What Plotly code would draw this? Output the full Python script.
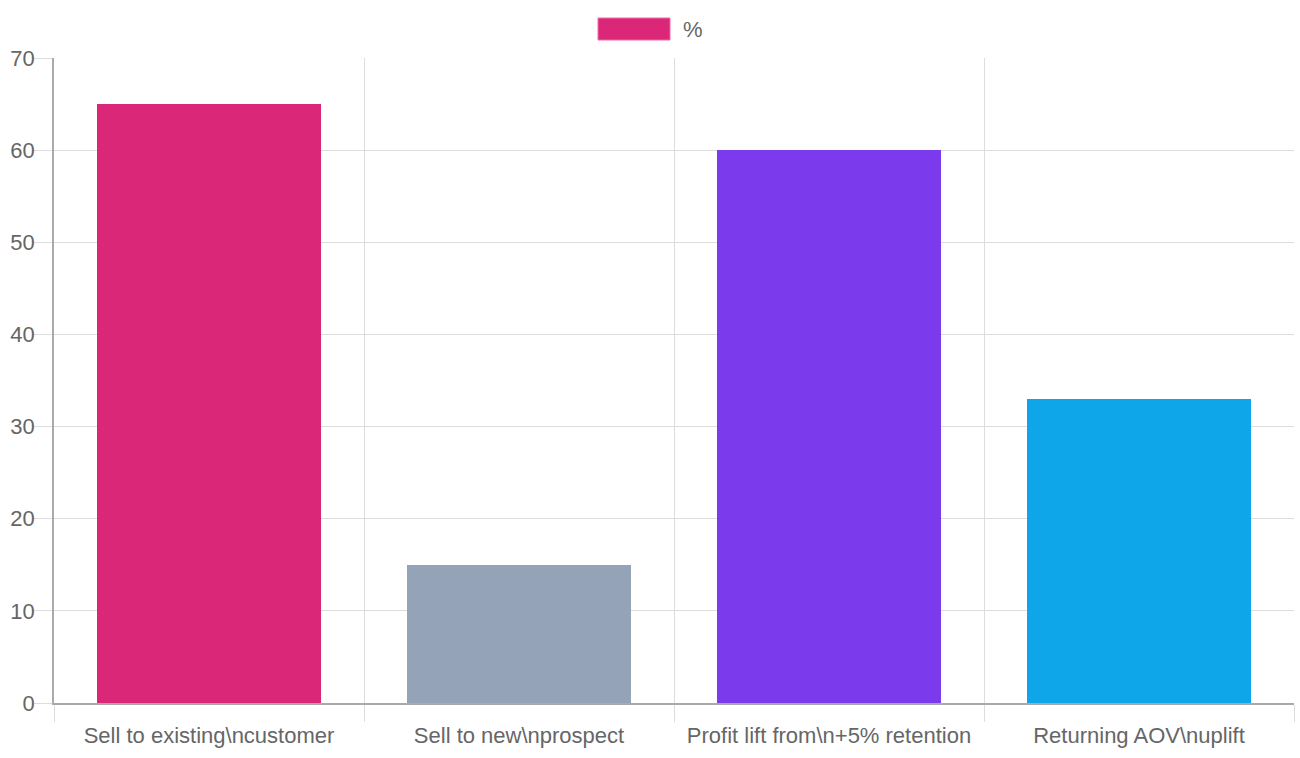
import plotly.graph_objects as go

categories = ["Sell to existing\\ncustomer", "Sell to new\\nprospect",
              "Profit lift from\\n+5% retention", "Returning AOV\\nuplift"]
values = [65, 15, 60, 33]
colors = ["#db2777", "#94a3b8", "#7c3aed", "#0ea5e9"]
series_name = "%"

fig = go.Figure()
fig.add_trace(go.Bar(x=categories, y=values, marker=dict(color=colors, line=dict(width=0)),
                     width=0.72, name=series_name, showlegend=False, hoverinfo="x+y"))

font_color = "#666666"
grid = "#dddddd"
axis_c = "#aaaaaa"
fsize = 22

fig.update_layout(
    width=1300, height=758,
    margin=dict(l=54, r=6, t=58, b=55),
    paper_bgcolor="white", plot_bgcolor="white",
    font=dict(family="Liberation Sans, Arial, sans-serif", size=fsize, color=font_color),
    xaxis=dict(type="category", tickson="boundaries", showgrid=True, gridcolor=grid, gridwidth=1,
               ticks="outside", ticklen=17, tickcolor=grid, showline=True, linecolor=axis_c,
               linewidth=1.5, mirror=False, tickfont=dict(size=fsize, color=font_color),
               ticklabelstandoff=12, fixedrange=True),
    yaxis=dict(range=[0, 70], dtick=10, showgrid=True, gridcolor=grid, gridwidth=1,
               ticks="outside", ticklen=18, tickcolor=grid, showline=True, linecolor=axis_c,
               linewidth=1.5, zeroline=False, tickfont=dict(size=fsize, color=font_color),
               ticklabelstandoff=-5, fixedrange=True),
    bargap=0,
)

# legend drawn as a colored box plus text
fig.add_shape(type="rect", xref="paper", yref="paper",
              x0=(598 - 54) / 1240, x1=(670 - 54) / 1240,
              y0=1 + (58 - 40) / 645, y1=1 + (58 - 18) / 645,
              fillcolor=colors[0], line=dict(color="#f06aa8", width=1))
fig.add_annotation(text=series_name, xref="paper", yref="paper",
                   x=(681 - 54) / 1240, y=1 + (58 - 29) / 645,
                   xanchor="left", yanchor="middle", showarrow=False,
                   font=dict(size=fsize, color=font_color))

fig.write_html("out.html")
